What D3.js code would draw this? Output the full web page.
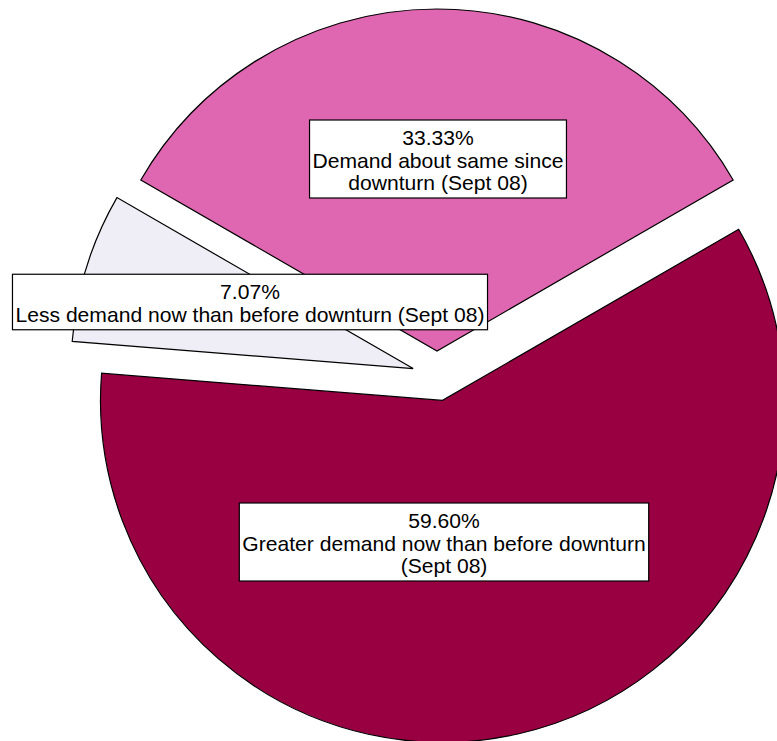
<!DOCTYPE html>
<html>
<head>
<meta charset="utf-8">
<script src="https://cdn.jsdelivr.net/npm/d3@7"></script>
<style>
  html, body { margin: 0; padding: 0; background: #fff; }
  svg { display: block; }
</style>
</head>
<body>
<svg id="chart" width="777" height="741"></svg>
<script>
// ---- data ----
const categories = [
  "Demand about same since\ndownturn (Sept 08)",
  "Greater demand now than before downturn\n(Sept 08)",
  "Less demand now than before downturn (Sept 08)"
];
const values = [33.33, 59.60, 7.07];
const colors = ["#df66b0", "#980041", "#efedf5"];

// ---- layout ----
const W = 777, H = 741;
const cx = 437, cy = 376;      // pie centre
const radius = 342;
const explode = 25;
const fontSize = 21.1;
const lineH = 22.5;
// label box centres, relative to pie centre (same order as categories)
const labelOffsets = [[1, -217], [7, 166], [-187, -74]];

const svg = d3.select("#chart");
const g = svg.append("g").attr("transform", `translate(${cx},${cy})`);

const data = categories.map((c, i) => ({ name: c, value: values[i], color: colors[i], lo: labelOffsets[i] }));

const pie = d3.pie()
  .sort(null)
  .value(d => d.value)
  .startAngle(-Math.PI / 3)
  .endAngle(-Math.PI / 3 + 2 * Math.PI);

const arc = d3.arc().innerRadius(0).outerRadius(radius);

const arcs = pie(data);

g.selectAll("path.slice")
  .data(arcs)
  .join("path")
  .attr("class", "slice")
  .attr("transform", d => {
    const a = (d.startAngle + d.endAngle) / 2;
    return `translate(${explode * Math.sin(a)},${-explode * Math.cos(a)})`;
  })
  .attr("d", arc)
  .attr("fill", d => d.data.color)
  .attr("stroke", "#000")
  .attr("stroke-width", 1.2)
  .attr("stroke-linejoin", "miter");

// labels
const lab = g.selectAll("g.label")
  .data(arcs)
  .join("g")
  .attr("class", "label")
  .attr("transform", d => `translate(${d.data.lo[0]},${d.data.lo[1]})`);

lab.each(function(d) {
  const sel = d3.select(this);
  const lines = [d3.format(".2f")(d.data.value) + "%"].concat(d.data.name.split("\n"));
  const boxH = lines.length * lineH + 10.5;
  const top = -boxH / 2;
  const rect = sel.append("rect").attr("fill", "#fff").attr("stroke", "#000").attr("stroke-width", 1.2);
  const text = sel.append("text")
    .attr("text-anchor", "middle")
    .attr("font-family", "'Liberation Sans', Arial, Helvetica, sans-serif")
    .attr("font-size", fontSize)
    .attr("fill", "#000");
  lines.forEach((ln, i) => {
    text.append("tspan").attr("x", 0).attr("y", top + 25 + i * lineH).text(ln);
  });
  const bb = text.node().getBBox();
  const pad = 3;
  rect.attr("x", bb.x - pad).attr("width", bb.width + 2 * pad)
      .attr("y", top).attr("height", boxH);
});
</script>
</body>
</html>
